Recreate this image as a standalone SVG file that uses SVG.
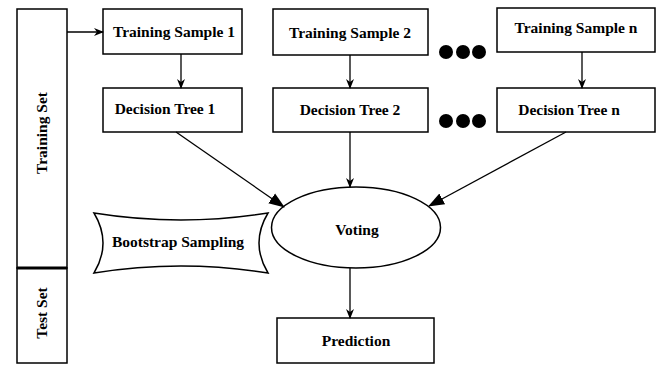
<svg xmlns="http://www.w3.org/2000/svg" width="660" height="365" viewBox="0 0 660 365">
<style>
.box{fill:#fff;stroke:#000;stroke-width:1.5}
.t{font-family:"Liberation Serif","Times New Roman",serif;font-weight:bold;font-size:15.5px;fill:#000;text-anchor:middle}
.c{stroke:#000;stroke-width:1.3;fill:none}
</style>
<defs>
<marker id="a" markerWidth="10" markerHeight="10" refX="9" refY="5" orient="auto" markerUnits="userSpaceOnUse"><path d="M0,1 L10,5 L0,9 L3,5 Z" fill="#000"/></marker>
<marker id="b" markerWidth="16" markerHeight="14" refX="15" refY="7" orient="auto" markerUnits="userSpaceOnUse"><path d="M0,1 L16,7 L0,13 Z" fill="#000"/></marker>
</defs>
<rect width="660" height="365" fill="#fff"/>
<g id="training-set">
<rect class="box" x="17" y="9" width="50" height="259"/>
<text class="t" transform="translate(47,133) rotate(-90)">Training Set</text>
</g>
<g id="test-set">
<rect class="box" x="17" y="268" width="50" height="95"/>
<text class="t" transform="translate(47,313) rotate(-90)">Test Set</text>
</g>
<line x1="17" y1="268" x2="67" y2="268" stroke="#000" stroke-width="3"/>
<g id="ts1"><rect class="box" x="103" y="9" width="139" height="45"/><text class="t" x="174" y="37">Training Sample 1</text></g>
<g id="ts2"><rect class="box" x="273" y="9" width="155" height="46"/><text class="t" x="350" y="38">Training Sample 2</text></g>
<g id="tsn"><rect class="box" x="497" y="8" width="158" height="44"/><text class="t" x="576" y="33">Training Sample n</text></g>
<g id="dt1"><rect class="box" x="103" y="88" width="139" height="44"/><text class="t" x="165" y="114">Decision Tree 1</text></g>
<g id="dt2"><rect class="box" x="273" y="88" width="155" height="44"/><text class="t" x="350" y="115">Decision Tree 2</text></g>
<g id="dtn"><rect class="box" x="497" y="88" width="158" height="44"/><text class="t" x="569" y="115">Decision Tree n</text></g>
<g id="dots1"><circle cx="446" cy="52" r="7"/><circle cx="463" cy="52" r="7"/><circle cx="479" cy="52" r="7"/></g>
<g id="dots2"><circle cx="446" cy="121" r="7"/><circle cx="463" cy="121" r="7"/><circle cx="479" cy="121" r="7"/></g>
<g id="voting"><ellipse class="box" cx="356" cy="227.5" rx="84.5" ry="40.5"/><text class="t" x="357" y="235">Voting</text></g>
<g id="prediction"><rect class="box" x="277" y="318" width="157" height="45"/><text class="t" x="356" y="346">Prediction</text></g>
<g id="bootstrap"><path class="box" d="M94,213 Q181,227 268,213 Q250,243 268,273 Q181,259 94,273 Q112,243 94,213 Z"/><text class="t" x="178" y="247">Bootstrap Sampling</text></g>
<g id="connectors">
<line class="c" x1="67" y1="32" x2="103" y2="32" marker-end="url(#a)"/>
<line class="c" x1="181" y1="54" x2="181" y2="88" marker-end="url(#a)"/>
<line class="c" x1="350" y1="55" x2="350" y2="88" marker-end="url(#a)"/>
<line class="c" x1="582" y1="52" x2="582" y2="88" marker-end="url(#a)"/>
<line class="c" x1="176" y1="132" x2="284" y2="207" marker-end="url(#b)"/>
<line class="c" x1="350" y1="132" x2="350" y2="187" marker-end="url(#a)"/>
<line class="c" x1="566" y1="132" x2="429" y2="206" marker-end="url(#b)"/>
<line class="c" x1="350" y1="268" x2="350" y2="318" marker-end="url(#a)"/>
</g>
</svg>
